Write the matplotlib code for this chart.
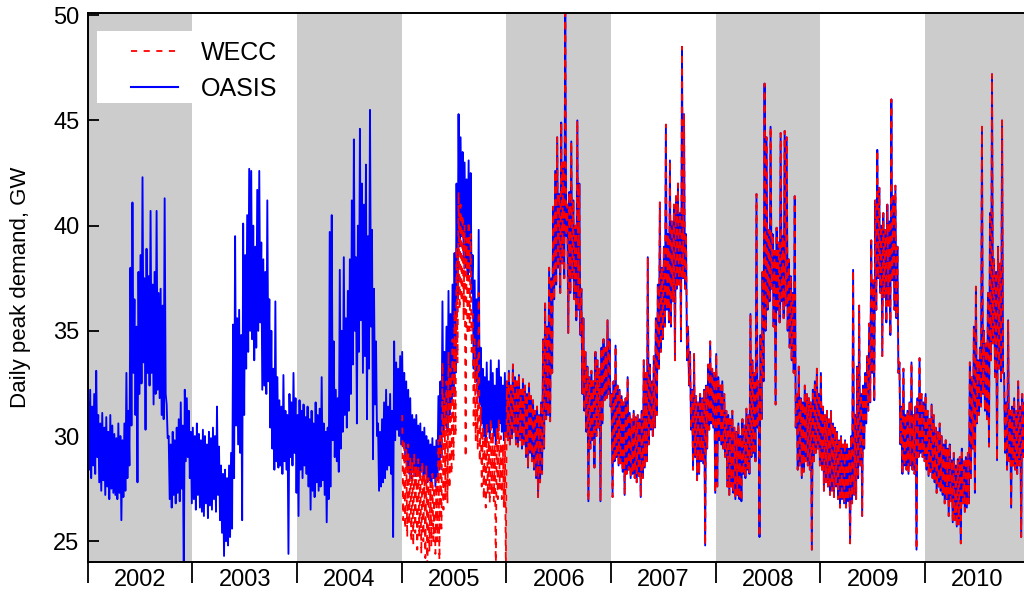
import numpy as np
import matplotlib
matplotlib.use("Agg")
import matplotlib.pyplot as plt
from matplotlib.patches import Rectangle
from matplotlib.lines import Line2D

plt.rcParams['font.family'] = ['Liberation Sans', 'DejaVu Sans']

# Daily peak demand (GW), two samples per week: weekday peak, weekend trough.
oasis_2002 = [
    31.6, 28.4, 32.2, 28.0, 31.4, 28.6, 32.0, 28.2, 33.1, 29.0, 31.0, 27.8, 30.6, 27.4, 31.1, 27.9, 30.4, 27.2, 30.9, 27.6, 30.2, 27.0, 31.0, 27.5, 30.5, 27.3,
    30.1, 27.2, 29.9, 27.0, 30.6, 27.3, 30.0, 26.0, 29.8, 27.1, 30.6, 27.4, 33.0, 28.0, 31.2, 28.6, 38.0, 30.5, 41.1, 33.0, 36.5, 31.0, 35.2, 27.8, 37.8, 32.0,
    38.6, 32.5, 42.3, 33.5, 37.5, 30.3, 38.9, 33.0, 37.6, 32.4, 40.7, 33.0, 37.2, 31.5, 37.8, 32.0, 40.7, 32.2, 36.8, 31.8, 37.0, 31.0, 36.2, 30.8, 41.3, 32.0,
    31.5, 29.9, 30.0, 27.0, 29.6, 26.6, 30.2, 27.2, 29.8, 26.8, 30.4, 27.3, 30.8, 26.9, 31.6, 27.5, 30.5, 23.0, 32.2, 28.8, 31.8, 29.0, 31.2, 28.0, 30.2, 26.8,
]
oasis_2003 = [
    30.4, 27.0, 30.0, 26.5, 30.6, 27.2, 30.1, 26.6, 29.8, 26.4, 30.3, 26.2, 30.0, 26.8, 29.6, 26.1, 30.2, 26.7, 29.9, 26.5, 30.4, 27.0, 30.0, 26.4, 31.4, 27.2,
    29.5, 26.0, 28.6, 25.4, 28.2, 24.3, 28.4, 25.0, 28.0, 24.8, 28.6, 25.2, 29.2, 25.6, 35.3, 28.0, 39.5, 30.5, 35.6, 29.6, 36.0, 29.2, 34.8, 26.0, 40.1, 31.0,
    38.6, 33.2, 40.5, 34.0, 42.7, 35.0, 42.6, 34.6, 40.0, 33.6, 39.0, 34.2, 41.7, 35.0, 42.6, 35.4, 39.2, 32.2, 38.4, 32.4, 37.8, 32.0, 41.2, 32.6, 36.5, 30.4,
    35.0, 29.4, 33.2, 28.4, 36.4, 28.8, 32.8, 28.5, 31.7, 28.6, 31.4, 28.2, 32.9, 28.8, 31.2, 28.4, 31.0, 24.4, 32.0, 29.0, 31.6, 28.6, 33.0, 29.2, 31.8, 27.3,
]
oasis_2004 = [
    31.0, 26.2, 31.7, 28.4, 31.2, 28.0, 31.5, 28.6, 30.9, 28.2, 31.4, 27.6, 30.8, 26.5, 31.2, 27.4, 30.6, 27.1, 31.6, 27.8, 31.0, 27.4, 31.3, 27.6, 32.8, 27.9,
    30.6, 27.2, 30.2, 25.9, 30.4, 27.0, 39.7, 27.6, 40.5, 29.8, 34.5, 29.0, 32.2, 28.8, 31.8, 28.3, 37.9, 29.4, 35.0, 30.2, 38.5, 31.0, 35.6, 30.4, 36.9, 31.2,
    38.4, 32.0, 41.2, 33.4, 44.1, 35.0, 38.5, 30.6, 40.0, 34.0, 44.6, 35.5, 42.0, 33.0, 41.0, 33.8, 42.9, 30.8, 39.5, 33.2, 45.5, 35.2, 39.8, 28.9, 37.0, 31.5,
    34.5, 30.0, 30.6, 27.4, 30.2, 27.6, 30.8, 27.8, 31.6, 28.0, 32.2, 28.4, 31.4, 28.6, 32.0, 28.2, 31.2, 25.2, 34.5, 29.8, 33.5, 30.3, 33.2, 30.0, 33.8, 29.6,
]
oasis_2005 = [
    34.0, 29.5, 33.0, 28.8, 32.6, 28.4, 32.2, 28.2, 31.8, 28.0, 31.0, 28.3, 30.8, 28.1, 31.0, 28.4, 30.5, 28.1, 30.6, 28.3, 30.2, 28.0, 30.4, 28.2, 30.0, 27.8,
    29.8, 27.9, 29.6, 27.8, 29.9, 28.0, 29.5, 27.6, 29.8, 27.9, 31.9, 28.4, 32.6, 29.0, 36.4, 30.0, 34.0, 30.5, 35.2, 30.2, 36.9, 31.0, 35.8, 31.5, 37.2, 32.0,
    38.7, 33.0, 42.0, 36.5, 45.3, 39.0, 44.2, 39.5, 43.5, 38.4, 43.0, 38.0, 42.2, 37.5, 43.1, 37.8, 42.5, 36.8, 38.6, 33.2, 37.4, 32.6, 36.5, 32.0, 39.8, 31.5,
    34.2, 30.6, 33.2, 30.0, 32.8, 29.8, 33.5, 30.2, 32.6, 29.9, 33.6, 30.4, 33.0, 30.0, 32.4, 29.6, 33.2, 30.2, 33.6, 30.6, 32.8, 30.2, 32.4, 29.8, 33.0, 30.0,
]
oasis_2006 = [
    32.6, 29.8, 33.1, 29.6, 32.4, 29.9, 33.4, 30.2, 32.8, 29.6, 32.6, 29.5, 32.9, 29.8, 32.2, 29.4, 32.7, 29.6, 32.4, 29.0, 32.0, 28.5, 32.5, 29.2, 31.9, 28.8,
    31.7, 28.4, 31.2, 28.0, 31.4, 27.1, 31.0, 27.8, 31.6, 28.2, 34.6, 29.4, 36.3, 30.8, 35.2, 31.0, 38.0, 30.7, 37.5, 33.0, 40.9, 36.5, 42.6, 37.2, 44.2, 38.0,
    41.5, 36.8, 44.9, 38.2, 43.0, 37.5, 50.1, 39.5, 41.0, 34.9, 41.6, 36.8, 44.0, 37.5, 41.2, 36.5, 40.0, 35.5, 45.0, 36.0, 42.0, 34.8, 37.0, 32.0, 35.6, 31.2,
    34.0, 30.2, 33.3, 26.9, 32.8, 29.4, 33.1, 29.8, 32.6, 28.5, 34.0, 30.0, 33.6, 30.4, 33.2, 26.9, 34.2, 30.6, 34.6, 31.7, 34.2, 31.8, 35.5, 32.0, 34.6, 31.4,
]
oasis_2007 = [
    32.0, 27.1, 32.6, 28.8, 34.3, 29.0, 32.4, 28.6, 32.2, 28.7, 31.9, 28.3, 31.6, 27.2, 31.8, 28.2, 32.8, 28.4, 31.1, 28.0, 30.8, 28.2, 31.2, 28.0, 30.9, 27.8,
    31.0, 28.1, 30.8, 27.1, 31.2, 28.0, 33.6, 28.5, 33.0, 28.8, 38.5, 29.6, 33.4, 30.3, 32.6, 30.0, 33.8, 30.4, 35.6, 31.0, 37.2, 33.2, 41.1, 34.0, 38.0, 34.6,
    39.0, 35.2, 44.8, 36.0, 39.6, 35.4, 43.1, 35.2, 40.2, 36.4, 41.0, 33.6, 41.4, 37.0, 42.0, 37.2, 40.6, 34.5, 48.5, 37.5, 45.3, 37.0, 39.6, 33.6, 35.2, 32.4,
    34.0, 30.3, 32.2, 28.4, 33.9, 29.0, 31.9, 27.9, 31.6, 28.2, 32.0, 28.8, 31.8, 28.7, 32.2, 24.8, 32.4, 29.4, 33.4, 30.3, 34.5, 30.6, 33.2, 30.4, 33.0, 27.3,
]
oasis_2008 = [
    33.9, 27.6, 32.8, 29.8, 32.4, 29.6, 32.6, 29.4, 32.0, 29.0, 31.2, 27.6, 31.0, 27.2, 30.8, 27.6, 31.2, 27.3, 30.4, 27.0, 30.2, 27.2, 30.6, 27.0, 30.0, 26.9,
    30.8, 28.2, 30.5, 28.0, 31.3, 28.4, 31.0, 28.2, 35.8, 29.0, 33.6, 29.2, 33.0, 28.8, 41.5, 30.4, 32.6, 25.2, 34.8, 30.8, 37.8, 32.6, 46.75, 35.0, 44.2, 36.0,
    39.8, 36.4, 44.7, 37.0, 39.6, 35.2, 38.8, 31.5, 39.9, 36.0, 39.2, 35.4, 44.4, 36.4, 39.5, 35.6, 44.5, 36.2, 44.2, 35.0, 38.4, 34.2, 37.6, 33.6, 36.8, 33.0,
    41.4, 30.4, 32.0, 28.4, 33.3, 28.6, 31.8, 28.0, 31.6, 28.3, 32.4, 28.8, 32.0, 28.6, 31.8, 28.4, 31.6, 24.6, 32.2, 28.8, 32.6, 29.2, 33.2, 29.4, 32.0, 28.6,
]
oasis_2009 = [
    33.0, 28.4, 31.4, 27.4, 31.0, 27.8, 31.2, 27.6, 30.8, 27.2, 31.2, 27.4, 30.6, 27.1, 30.4, 27.6, 30.2, 27.0, 29.8, 26.6, 30.0, 27.0, 29.6, 26.8, 29.8, 26.6,
    29.6, 26.9, 29.4, 24.9, 30.0, 26.8, 37.9, 27.2, 31.0, 27.0, 33.3, 28.0, 36.2, 28.6, 32.0, 26.2, 32.4, 29.4, 33.0, 30.6, 33.8, 31.2, 35.35, 31.6, 39.3, 33.0,
    37.4, 31.7, 41.2, 36.0, 43.6, 37.5, 41.8, 36.8, 40.0, 33.8, 40.6, 36.6, 39.8, 35.4, 41.0, 36.2, 40.2, 34.8, 46.0, 37.4, 41.4, 36.0, 41.9, 35.6, 39.0, 33.0,
    33.5, 29.6, 31.4, 28.2, 33.2, 28.6, 31.0, 28.4, 31.2, 28.2, 31.6, 28.6, 33.5, 28.4, 31.0, 28.2, 31.4, 24.6, 31.8, 29.0, 33.7, 29.2, 32.0, 29.0, 31.6, 28.8,
]
oasis_2010 = [
    32.0, 28.4, 31.2, 28.1, 30.8, 28.3, 31.5, 28.0, 31.0, 27.8, 30.4, 27.3, 30.2, 27.6, 30.6, 27.4, 30.0, 27.2, 29.6, 26.8, 29.8, 27.0, 29.4, 26.2, 29.6, 26.9,
    28.85, 25.9, 29.2, 26.0, 28.6, 25.7, 28.9, 25.8, 29.0, 24.9, 29.4, 26.8, 28.8, 26.4, 29.0, 26.6, 29.2, 26.8, 33.5, 28.0, 32.8, 29.4, 35.2, 27.3, 37.1, 30.6,
    33.6, 31.0, 34.2, 31.4, 44.7, 32.0, 35.0, 31.2, 34.4, 30.8, 36.8, 29.5, 40.6, 33.6, 47.2, 34.4, 38.4, 32.8, 37.8, 28.85, 39.0, 33.2, 38.2, 32.6, 45.0, 33.0,
    33.0, 29.2, 31.6, 28.4, 35.5, 28.8, 31.2, 26.6, 31.4, 28.6, 31.8, 28.4, 31.2, 28.2, 32.6, 28.6, 31.4, 25.2, 32.0, 29.0, 31.6, 28.8,
]
# WECC record starts in 2005 (lower than OASIS that year); from 2006 on the two agree.
wecc_2005 = [
    31.0, 26.0, 29.8, 25.6, 29.4, 25.2, 29.6, 25.8, 29.0, 25.0, 28.8, 24.8, 29.2, 25.4, 28.6, 24.6, 28.9, 25.2, 28.4, 24.4, 28.8, 25.0, 28.2, 24.2, 28.6, 23.6,
    28.0, 24.5, 27.8, 24.8, 28.2, 25.0, 27.6, 24.4, 28.0, 25.0, 29.8, 23.8, 30.2, 25.6, 33.5, 26.5, 31.8, 27.0, 32.6, 26.8, 34.0, 27.5, 33.2, 28.2, 34.6, 28.8,
    36.0, 30.0, 39.0, 33.5, 41.6, 36.0, 41.0, 36.4, 40.5, 35.5, 40.0, 29.0, 39.4, 34.8, 40.2, 35.0, 39.6, 34.0, 35.8, 30.5, 34.6, 29.8, 33.8, 29.4, 36.8, 28.8,
    31.4, 27.6, 30.4, 27.0, 30.0, 26.6, 30.6, 27.2, 29.8, 26.8, 30.8, 27.2, 30.2, 26.9, 29.6, 23.4, 30.4, 27.0, 30.8, 27.5, 30.0, 27.0, 29.6, 26.6, 30.2, 23.6,
]

years = [2002, 2003, 2004, 2005, 2006, 2007, 2008, 2009, 2010]
shaded_years = [2002, 2004, 2006, 2008, 2010]
oasis_years = {2002: oasis_2002, 2003: oasis_2003, 2004: oasis_2004,
               2005: oasis_2005, 2006: oasis_2006, 2007: oasis_2007,
               2008: oasis_2008, 2009: oasis_2009, 2010: oasis_2010}
wecc_years = {2005: wecc_2005, 2006: oasis_2006, 2007: oasis_2007,
              2008: oasis_2008, 2009: oasis_2009, 2010: oasis_2010}


def to_series(by_year):
    xs, vs = [], []
    for yr in sorted(by_year):
        vals = np.asarray(by_year[yr], dtype=float)
        xs.append(yr + (np.arange(len(vals)) + 0.5) / 104.0)
        vs.append(vals)
    return np.concatenate(xs), np.concatenate(vs)


x_oasis, v_oasis = to_series(oasis_years)
x_wecc, v_wecc = to_series(wecc_years)

fig = plt.figure(figsize=(10.24, 5.99), dpi=100)
ax = fig.add_axes([0.0856, 0.0613, 0.9144, 0.9175])

for yr in shaded_years:
    ax.axvspan(yr, yr + 1, color='#cccccc', lw=0, zorder=0)

DASH = (0, (3.4, 3.6))
ax.plot(x_oasis, v_oasis, color='#0000ff', lw=1.35, zorder=2)
ax.plot(x_wecc, v_wecc, color='#ff0000', lw=1.3, ls=DASH, zorder=3)

ax.set_xlim(2002, 2010.945)
ax.set_ylim(24.0, 50.12)

ax.spines['right'].set_visible(False)
for s in ('left', 'bottom', 'top'):
    ax.spines[s].set_linewidth(1.4)
    ax.spines[s].set_zorder(6)

ax.set_yticks([25, 30, 35, 40, 45, 50])
ax.tick_params(axis='y', direction='in', length=8, width=1.3, labelsize=17,
               pad=6, right=False)
ax.set_xticks(years)
ax.set_xticks([y + 0.5 for y in years], minor=True)
ax.set_xticklabels([str(y) for y in years], minor=True)
ax.tick_params(axis='x', which='major', direction='out', length=15, width=1.3,
               labelbottom=False, top=False)
ax.tick_params(axis='x', which='minor', length=0, pad=5, labelsize=17, top=False)

ax.set_ylabel('Daily peak demand, GW', fontsize=16)
ax.yaxis.set_label_coords(-0.061, 0.5)

# white panel behind the legend
ax.add_patch(Rectangle((0.0099, 0.8352), 0.206, 0.1321, transform=ax.transAxes,
                       facecolor='white', edgecolor='none', zorder=4))
handles = [Line2D([], [], color='#ff0000', lw=1.3, ls=DASH),
           Line2D([], [], color='#0000ff', lw=1.5)]
leg = ax.legend(handles, ['WECC', 'OASIS'], loc='upper left',
                bbox_to_anchor=(0.0462, 0.9481), frameon=False, fontsize=18,
                borderpad=0, borderaxespad=0, handlelength=1.88,
                handletextpad=0.92, labelspacing=0.48)
leg.set_zorder(5)

fig.savefig('out.png', dpi=100)
